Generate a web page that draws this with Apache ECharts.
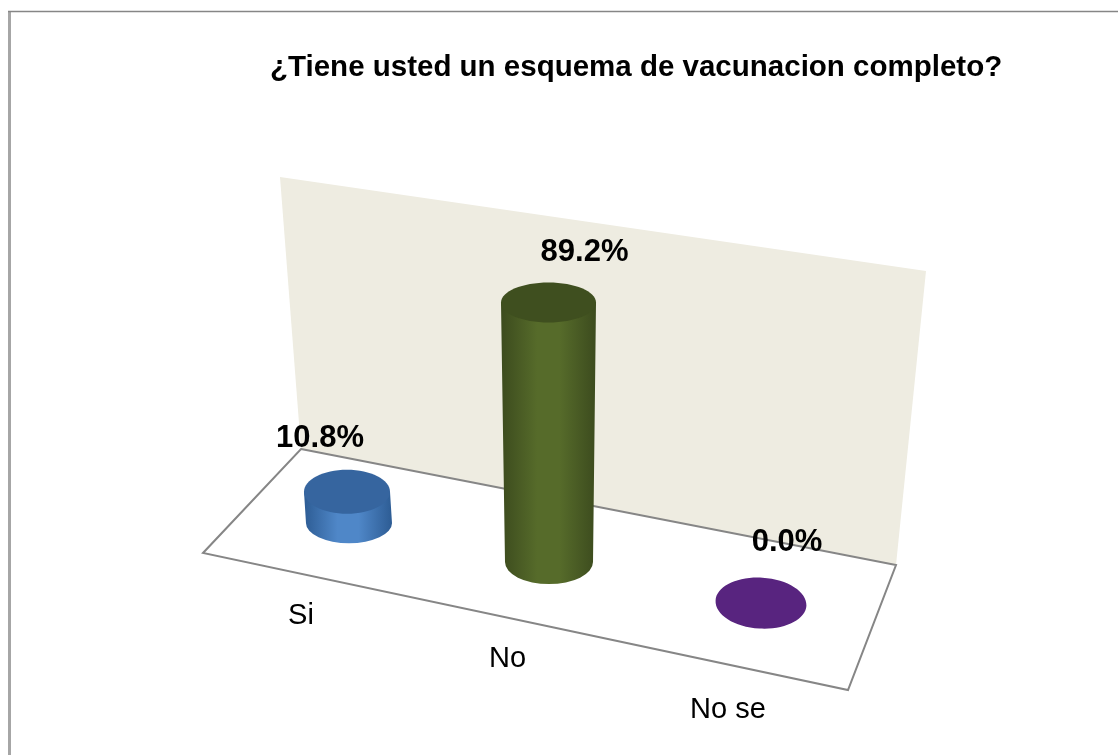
<!DOCTYPE html>
<html><head><meta charset="utf-8">
<style>html,body{margin:0;padding:0;background:#fff}#c{width:1118px;height:755px}</style>
<script src="https://cdn.jsdelivr.net/npm/echarts@6/dist/echarts.min.js"></script>
</head><body><div id="c"></div>
<script>
const titleText = '¿Tiene usted un esquema de vacunacion completo?';
const categories = ['Si', 'No', 'No se'];
const values = [10.8, 89.2, 0.0];

const sideColors = [
  ['#2d5c94', '#4f87c8'],
  ['#3c4b1e', '#566b2a'],
  ['#4b2070', '#5a2a86']
];
const topColors = ['#36659f', '#3f4f1f', '#58247f'];
const wallPoly = [[280,177],[926,271],[896,565],[301,449]];
const floorPoly = [[301,449],[896,565],[848,690],[203,553]];

const gridLeft = 243.5, gridW = 621, gridH = 291, gridBase = 562;
const skew = 0.193, skewAnchor = 548;
const perspectiveDx = [0, -5.5, 0];
const baseDx = [2, 0.5, 0];
const rxTop = [43, 47.5, 45.5], ryTop = [22, 20, 25.5];
const rxBase = [43, 44, 45.5], ryBase = [20, 22, 25.5];
const tilt = [0, 0, -0.06];
const valueLabelOffset = [[-27, -53], [36, -50], [26, -61]];
const catLabelOffset = [[-46, 93], [-41, 97], [-33, 107]];
const fontFamily = '"Liberation Sans", Arial, sans-serif';

function renderCyl(params, api) {
  const i = api.value(0), v = api.value(1);
  const base = api.coord([i, 0]);
  const top0 = api.coord([i, v]);
  const cx = base[0] + perspectiveDx[i];
  const dy = (cx - skewAnchor) * skew;
  const by = base[1] + dy, ty = top0[1] + dy;
  const bx = cx + baseDx[i];
  const c = sideColors[i];
  const children = [];
  if (v > 0) {
    const rt = rxTop[i], rb = rxBase[i], ry = ryBase[i];
    children.push({
      type: 'path',
      shape: {
        pathData: `M${cx-rt} ${ty} L${bx-rb} ${by} A${rb} ${ry} 0 0 0 ${bx+rb} ${by} L${cx+rt} ${ty} Z`
      },
      style: { fill: new echarts.graphic.LinearGradient(0, 0, 1, 0, [
        {offset: 0, color: c[0]}, {offset: 0.38, color: c[1]},
        {offset: 0.62, color: c[1]}, {offset: 1, color: c[0]}]) }
    });
  }
  children.push({
    type: 'ellipse',
    originX: cx, originY: ty,
    rotation: tilt[i],
    shape: { cx: cx, cy: ty, rx: rxTop[i], ry: ryTop[i] },
    style: { fill: topColors[i] }
  });
  children.push({
    type: 'text',
    style: {
      text: v.toFixed(1) + '%',
      x: cx + valueLabelOffset[i][0], y: ty + valueLabelOffset[i][1],
      align: 'center', verticalAlign: 'middle',
      font: 'bold 31px ' + fontFamily, fill: '#000'
    }
  });
  children.push({
    type: 'text',
    style: {
      text: categories[i],
      x: cx + catLabelOffset[i][0], y: by + catLabelOffset[i][1],
      align: 'center', verticalAlign: 'middle',
      font: '29px ' + fontFamily, fill: '#000'
    }
  });
  return { type: 'group', children };
}

const chart = echarts.init(document.getElementById('c'), null, {renderer: 'canvas'});
chart.setOption({
  animation: false,
  backgroundColor: '#fff',
  title: {
    text: titleText, left: 265, top: 48,
    textStyle: { fontFamily: fontFamily, fontWeight: 'bold', fontSize: 29.5, color: '#000' }
  },
  graphic: [
    { type: 'line', z: 0, shape: {x1: 9.5, y1: 755, x2: 9.5, y2: 11}, style: {stroke: '#a6a6a6', lineWidth: 3} },
    { type: 'line', z: 0, shape: {x1: 8, y1: 11.5, x2: 1118, y2: 11.5}, style: {stroke: '#868686', lineWidth: 1.5} },
    { type: 'polygon', z: 0, shape: {points: wallPoly}, style: {fill: '#eeece1'} },
    { type: 'polygon', z: 0, shape: {points: floorPoly}, style: {fill: '#fff', stroke: '#868686', lineWidth: 2} }
  ],
  grid: { left: gridLeft, width: gridW, top: gridBase - gridH, height: gridH },
  xAxis: { type: 'category', data: categories, show: false },
  yAxis: { type: 'value', min: 0, max: 100, show: false },
  series: [{
    type: 'custom',
    clip: false,
    z: 5,
    data: values.map((v, i) => [i, v]),
    encode: { x: 0, y: 1 },
    renderItem: renderCyl
  }]
});
</script></body></html>
